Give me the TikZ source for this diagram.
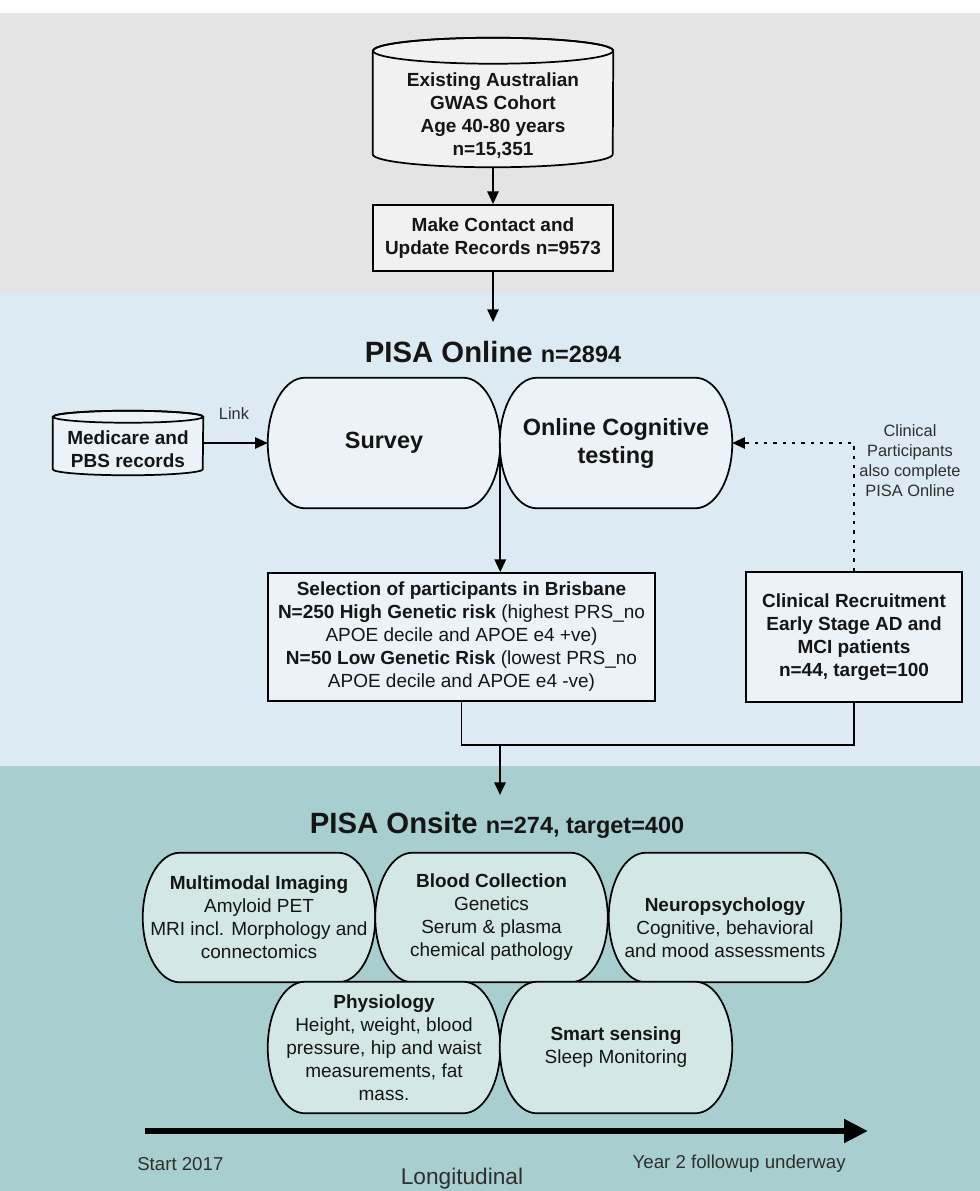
\documentclass[tikz,border=0pt]{standalone}
\usepackage{fontspec}
\setmainfont{Liberation Sans}
\usetikzlibrary{arrows.meta,calc}
\pgfdeclarelayer{bands}
\pgfdeclarelayer{bg}
\pgfsetlayers{bands,bg,main}
\definecolor{bandgray}{HTML}{E4E4E4}
\definecolor{bandblue}{HTML}{DCEAF3}
\definecolor{bandteal}{HTML}{A7CFD0}
\definecolor{fillgray}{HTML}{F1F1F1}
\definecolor{fillblue}{HTML}{EBF3F8}
\definecolor{fillteal}{HTML}{D3E7E7}
\definecolor{txt}{HTML}{151515}
\definecolor{lbl}{HTML}{2E2E2E}
\newcommand\fsBody{\fontsize{14.25pt}{17.25pt}\selectfont}
\newcommand\fsBig{\fontsize{17.6pt}{21pt}\selectfont}
\newcommand\fsLbl{\fontsize{12.3pt}{15pt}\selectfont}
\newcommand\fsTime{\fontsize{14pt}{17pt}\selectfont}
\newcommand\drawpill[3]{%
\begin{pgfonlayer}{bg}
\draw[shapeline, fill=#3]
 ([xshift=#2]#1.north west) -- ([xshift=-#2]#1.north east)
 .. controls ([xshift=-0.45*#2]#1.north east) and ($(#1.east)!0.55!(#1.north east)$) .. (#1.east)
 .. controls ($(#1.east)!0.55!(#1.south east)$) and ([xshift=-0.45*#2]#1.south east) .. ([xshift=-#2]#1.south east)
 -- ([xshift=#2]#1.south west)
 .. controls ([xshift=0.45*#2]#1.south west) and ($(#1.west)!0.55!(#1.south west)$) .. (#1.west)
 .. controls ($(#1.west)!0.55!(#1.north west)$) and ([xshift=0.45*#2]#1.north west) .. ([xshift=#2]#1.north west)
 -- cycle;
\end{pgfonlayer}}
\newcommand\drawcyl[4]{%
\begin{pgfonlayer}{bg}
\draw[shapeline, fill=#4] ([yshift=#3]#1.north west) -- ([yshift=#3]#1.south west)
  arc[start angle=180, end angle=360, x radius=#2, y radius=#3]
  -- ([yshift=#3]#1.north east)
  arc[start angle=0, end angle=180, x radius=#2, y radius=#3] -- cycle;
\draw[shapeline] ([yshift=#3]#1.north) ellipse[x radius=#2, y radius=#3];
\end{pgfonlayer}}
\tikzset{
  shapeline/.style={draw=black, line width=1.3pt},
  txtnode/.style={rectangle, inner sep=0pt, align=center, text=txt, font=\fsBody},
  boldnode/.style={txtnode, font=\fsBody\bfseries},
  plainbox/.style={txtnode, draw=black, line width=1.3pt},
  conn/.style={line width=1.3pt, draw=black},
  arr/.style={conn, -{Triangle[length=9.5pt,width=8.5pt]}},
  dotconn/.style={line width=1.3pt, draw=black, dash pattern=on 2.5pt off 4.5pt, -{Triangle[length=9.5pt,width=8.5pt]}},
  lblnode/.style={inner sep=0pt, align=center, text=lbl, font=\fsLbl},
  timenode/.style={inner sep=0pt, text=lbl, font=\fsTime},
  titlenode/.style={inner sep=0pt, text=txt},
  pillA/.style={txtnode, minimum width=174pt, minimum height=97.5pt},
  pillB/.style={txtnode, minimum width=174pt, minimum height=96.75pt},
  pillC/.style={txtnode, minimum width=174pt, minimum height=98.25pt},
}
\begin{document}
\begin{tikzpicture}[x=0.75pt, y=-0.75pt]
\clip (0,0) rectangle (980,1191);
\begin{pgfonlayer}{bands}
\fill[white] (0,0) rectangle (980,1191);
\fill[bandgray] (0,13) rectangle (980,293);
\fill[bandblue] (0,293) rectangle (980,766);
\fill[bandteal] (0,766) rectangle (980,1191);
\end{pgfonlayer}

% top section
\node[boldnode, minimum width=180pt, minimum height=77.25pt] (gwas) at (493,115.5)
  {Existing Australian\\GWAS Cohort\\Age 40-80 years\\n=15,351};
\drawcyl{gwas}{90pt}{9.75pt}{fillgray}
\node[plainbox, font=\fsBody\bfseries, fill=fillgray, minimum width=180pt, minimum height=49.5pt] (contact) at (493,238)
  {Make Contact and\\Update Records n=9573};
\coordinate (c1) at (493,322);
\draw[arr] (gwas.south) -- (contact.north);
\draw[arr] (contact.south) -- (c1);

% PISA Online
\node[titlenode] (ontitle) at (493,352)
  {\fontsize{22pt}{26pt}\selectfont\bfseries PISA Online {\fontsize{17.6pt}{21pt}\selectfont n=2894}};
\node[boldnode, minimum width=112.5pt, minimum height=39pt] (med) at (128,449)
  {Medicare and\\PBS records};
\drawcyl{med}{56.25pt}{4.5pt}{fillblue}
\node[pillA, font=\fsBig\bfseries] (survey) at (384,443) {Survey};
\drawpill{survey}{27.75pt}{fillblue}
\node[pillA, font=\fsBig\bfseries] (online) at (616,443) {Online Cognitive\\testing};
\drawpill{online}{27.75pt}{fillblue}
\node[lblnode] (link) at (234,414) {Link};
\draw[arr] (med.east |- survey.west) -- (survey.west);
\node[lblnode] (clinlbl) at (910,461) {Clinical\\Participants\\also complete\\PISA Online};

\node[plainbox, fill=fillblue, minimum width=290.25pt, minimum height=96pt] (sel) at (461.5,637)
  {\textbf{Selection of participants in Brisbane}\\
   \textbf{N=250 High Genetic risk} (highest PRS\_no\\
   APOE decile and APOE e4 +ve)\\
   \textbf{N=50 Low Genetic Risk} (lowest PRS\_no\\
   APOE decile and APOE e4 -ve)};
\node[plainbox, font=\fsBody\bfseries, fill=fillblue, minimum width=162pt, minimum height=97.5pt] (clin) at (854,637)
  {Clinical Recruitment\\Early Stage AD and\\MCI patients\\n=44, target=100};
\draw[arr] (survey.east) -- (survey.east |- sel.north);
\draw[dotconn] (clin.north) |- (online.east);
\coordinate (jn) at (500,745);
\coordinate (c2) at (500,795);
\draw[conn] (sel.south) -- (sel.south |- jn) -| (clin.south);
\draw[arr] (jn) -- (c2);

% PISA Onsite
\node[titlenode] (onsitetitle) at (497,825)
  {\fontsize{22pt}{26pt}\selectfont\bfseries PISA Onsite {\fontsize{17.6pt}{21pt}\selectfont n=274, target=400}};
\node[pillB] (mm) at (259,917.5)
  {\textbf{Multimodal Imaging}\\Amyloid PET\\MRI incl. Morphology and\\connectomics};
\drawpill{mm}{27.75pt}{fillteal}
\node[pillB] (blood) at (491.5,917.5)
  {\textbf{Blood Collection}\\Genetics\\Serum \& plasma\\chemical pathology};
\drawpill{blood}{27.75pt}{fillteal}
\node[pillB] (neuro) at (725,917.5)
  {\rule{0pt}{25pt}\textbf{Neuropsychology}\\Cognitive, behavioral\\and mood assessments};
\drawpill{neuro}{27.75pt}{fillteal}
\node[pillC] (phys) at (384,1047.5)
  {\textbf{Physiology}\\Height, weight, blood\\pressure, hip and waist\\measurements, fat\\mass.};
\drawpill{phys}{27.75pt}{fillteal}
\node[pillC] (smart) at (616,1047.5)
  {\textbf{Smart sensing}\\Sleep Monitoring};
\drawpill{smart}{27.75pt}{fillteal}

% timeline
\coordinate (t0) at (145,1131);
\coordinate (t1) at (868,1131);
\draw[line width=4.5pt, -{Triangle[length=18pt,width=17pt]}] (t0) -- (t1);
\node[timenode, anchor=west] (start) at (137,1164) {Start 2017};
\node[timenode, anchor=east] (year2) at (846,1164) {Year 2 followup underway};
\node[timenode, anchor=base, font=\fontsize{17pt}{20pt}\selectfont] (longi) at (462,1184) {Longitudinal};
\end{tikzpicture}
\end{document}
